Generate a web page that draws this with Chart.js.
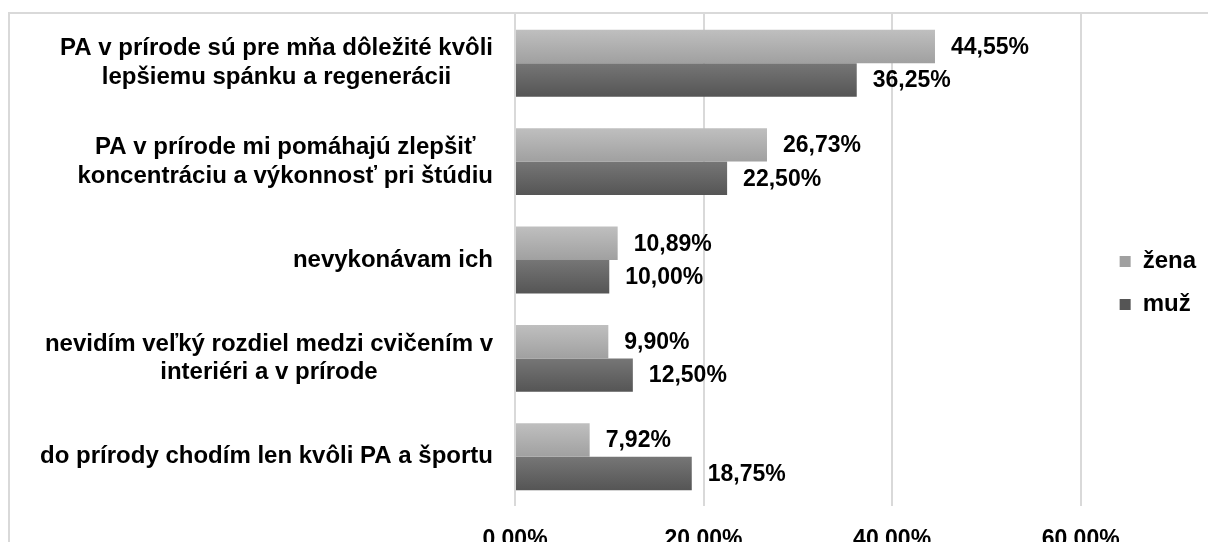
<!DOCTYPE html>
<html lang="sk">
<head>
<meta charset="utf-8">
<script src="https://cdn.jsdelivr.net/npm/chart.js@4"></script>
<style>
    html, body { margin: 0; padding: 0; background: #fff; overflow: hidden; }
    #wrap { position: relative; width: 1208px; height: 542px; overflow: hidden; }
    #frame { position: absolute; left: 8px; top: 12px; width: 1400px; height: 800px; border: 2px solid #d9d9d9; }
    #chart { position: absolute; left: 0; top: 0; }
</style>
</head>
<body>
<div id="wrap">
    <div id="frame"></div>
    <canvas id="chart" width="1208" height="542"></canvas>
</div>
<script>
const categories = [
    ['PA v prírode sú pre mňa dôležité kvôli', 'lepšiemu spánku a regenerácii'],
    ['PA v prírode mi pomáhajú zlepšiť', 'koncentráciu a výkonnosť pri štúdiu'],
    'nevykonávam ich',
    ['nevidím veľký rozdiel medzi cvičením v', 'interiéri a v prírode'],
    'do prírody chodím len kvôli PA a športu'
];
const seriesNames = ['žena', 'muž'];
const zenaValues = [44.55, 26.73, 10.89, 9.90, 7.92];
const muzValues = [36.25, 22.50, 10.00, 12.50, 18.75];
const xTicks = [0, 20, 40, 60];

const FONT = '"Liberation Sans", Arial, sans-serif';
const catPct = 0.68;

Chart.defaults.font.family = FONT;
Chart.defaults.color = '#000';

// gradient per bar, computed from the category scale
function barFill(top, bottom, flat) {
    return (ctx) => {
        const chart = ctx.chart;
        const area = chart.chartArea;
        if (!area || ctx.dataIndex === undefined || !chart.scales.y) return flat;
        const center = chart.scales.y.getPixelForValue(ctx.dataIndex);
        const band = (area.bottom - area.top) / categories.length;
        const h = band * catPct / 2;
        const y0 = ctx.datasetIndex === 0 ? center - h : center;
        const g = chart.ctx.createLinearGradient(0, y0, 0, y0 + h);
        g.addColorStop(0, top);
        g.addColorStop(1, bottom);
        return g;
    };
}

// value labels next to the bars
const valueLabels = {
    id: 'valueLabels',
    afterDatasetsDraw(chart) {
        const c = chart.ctx;
        c.save();
        c.font = 'bold 23px ' + FONT;
        c.fillStyle = '#000';
        c.textAlign = 'left';
        c.textBaseline = 'middle';
        chart.data.datasets.forEach((ds, di) => {
            chart.getDatasetMeta(di).data.forEach((bar, i) => {
                const txt = ds.data[i].toFixed(2).replace('.', ',') + '%';
                c.fillText(txt, bar.x + 16, bar.y + 1);
            });
        });
        c.restore();
    }
};

// category labels: block right-aligned, lines centred inside the block
const categoryLabels = {
    id: 'categoryLabels',
    afterDraw(chart) {
        const c = chart.ctx;
        const yScale = chart.scales.y;
        const right = 493;
        const lh = 28.8;
        c.save();
        c.font = 'bold 24px ' + FONT;
        c.fillStyle = '#000';
        c.textAlign = 'center';
        c.textBaseline = 'middle';
        chart.data.labels.forEach((lab, i) => {
            const lines = Array.isArray(lab) ? lab : [lab];
            const w = Math.max(...lines.map(l => c.measureText(l).width));
            const cx = right - w / 2;
            const cy = yScale.getPixelForValue(i);
            lines.forEach((l, k) => {
                c.fillText(l, cx, cy - (lines.length - 1) * lh / 2 + k * lh);
            });
        });
        c.restore();
    }
};

// nudge the legend a bit away from the plot
const legendShift = {
    id: 'legendShift',
    afterLayout(chart) {
        if (chart.legend) {
            chart.legend.left += 20;
            chart.legend.right += 20;
            chart.legend.top += 5;
            chart.legend.bottom += 5;
        }
    }
};

new Chart(document.getElementById('chart'), {
    type: 'bar',
    data: {
        labels: categories,
        datasets: [
            {
                label: seriesNames[0],
                data: zenaValues,
                backgroundColor: barFill('#bfbfbf', '#a0a0a0', '#b3b3b3'),
                categoryPercentage: catPct,
                barPercentage: 1.0
            },
            {
                label: seriesNames[1],
                data: muzValues,
                backgroundColor: barFill('#767676', '#555555', '#676767'),
                categoryPercentage: catPct,
                barPercentage: 1.0
            }
        ]
    },
    options: {
        indexAxis: 'y',
        responsive: false,
        animation: false,
        layout: { padding: { top: 14, right: 22, bottom: 0, left: 0 } },
        scales: {
            x: {
                min: xTicks[0],
                max: xTicks[xTicks.length - 1],
                afterBuildTicks(scale) { scale.ticks = xTicks.map(v => ({ value: v })); },
                afterFit(scale) { scale.height = 36; },
                grid: { color: '#d9d9d9', lineWidth: 2, drawTicks: false },
                border: { display: false },
                ticks: {
                    padding: 20,
                    font: { size: 23, weight: 'bold' },
                    color: '#000',
                    callback: v => v.toFixed(2) + '%'
                }
            },
            y: {
                afterFit(scale) { scale.width = 515; },
                grid: { display: false },
                border: { display: false },
                ticks: { display: false }
            }
        },
        plugins: {
            legend: {
                position: 'right',
                labels: {
                    boxWidth: 11,
                    boxHeight: 11,
                    padding: 19,
                    color: '#000',
                    font: { size: 24, weight: 'bold' }
                }
            },
            tooltip: { enabled: false }
        }
    },
    plugins: [valueLabels, categoryLabels, legendShift]
});
</script>
</body>
</html>
